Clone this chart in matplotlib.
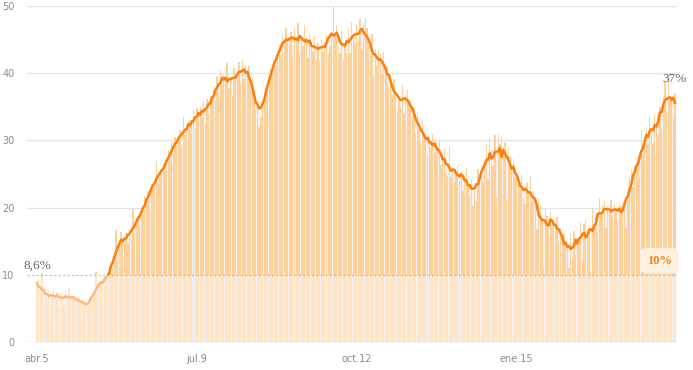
import matplotlib
matplotlib.use("Agg")
import matplotlib.pyplot as plt
import matplotlib.dates as mdates
from matplotlib.patches import Rectangle
import numpy as np
import pandas as pd

# daily positivity (%) from 5 april 2020, one row per week
positivity = [
    8.6, 9.4, 7.2, 10.2, 5.6, 7.6, 6.2,
    7.8, 5.4, 7.2, 8.0, 6.8, 7.5, 5.2,
    7.4, 6.8, 5.3, 7.6, 6.1, 8.1, 6.4,
    6.9, 6.2, 5.4, 7.0, 6.6, 5.8, 6.1,
    5.9, 5.3, 5.0, 5.8, 5.6, 6.4, 7.4,
    10.4, 7.2, 8.2, 9.0, 8.6, 9.8, 9.2,
    9.5, 10.6, 10.2, 11.0, 12.0, 16.6, 13.0,
    14.8, 16.4, 15.0, 14.6, 16.2, 14.8, 16.0,
    15.3, 19.8, 16.2, 17.6, 18.8, 17.4, 20.0,
    19.0, 21.8, 20.4, 22.5, 21.0, 23.5, 22.8,
    23.0, 27.0, 23.6, 24.8, 25.4, 26.6, 25.4,
    26.0, 28.5, 27.2, 29.8, 28.0, 30.5, 29.2,
    30.2, 31.5, 29.0, 33.5, 30.8, 32.2, 31.2,
    33.0, 32.0, 34.5, 31.8, 34.8, 33.2, 35.0,
    33.5, 35.8, 32.5, 36.2, 34.0, 35.6, 36.6,
    37.5, 35.8, 39.6, 37.0, 40.5, 38.2, 39.8,
    38.6, 41.5, 37.8, 38.9, 36.6, 40.8, 39.5,
    39.8, 41.6, 38.5, 42.0, 39.2, 41.0, 40.6,
    41.0, 38.0, 39.5, 36.2, 34.5, 35.8, 32.0,
    33.5, 36.0, 35.2, 37.0, 38.5, 39.5, 40.6,
    40.5, 42.0, 41.2, 43.0, 44.2, 42.8, 45.6,
    44.0, 46.8, 45.0, 44.5, 46.2, 42.5, 46.8,
    44.8, 47.5, 43.0, 45.6, 44.0, 47.2, 45.2,
    42.4, 45.8, 44.6, 43.2, 45.5, 42.0, 44.5,
    41.8, 45.0, 43.2, 44.6, 45.8, 42.8, 44.0,
    46.0, 50.0, 45.5, 47.2, 44.0, 43.0, 46.5,
    42.0, 44.5, 43.0, 46.8, 43.0, 47.6, 45.2,
    44.5, 47.2, 45.0, 48.0, 43.5, 47.5, 48.2,
    46.8, 44.0, 42.5, 45.8, 39.8, 43.5, 41.0,
    43.5, 42.8, 40.0, 43.2, 40.5, 41.0, 38.0,
    39.5, 36.8, 39.2, 37.4, 34.2, 36.5, 35.0,
    38.2, 34.0, 36.8, 37.5, 35.8, 36.2, 33.5,
    35.0, 31.0, 34.2, 32.5, 29.6, 33.0, 30.0,
    31.5, 27.8, 30.5, 29.0, 31.0, 28.2, 29.8,
    28.5, 30.0, 26.4, 27.0, 28.8, 25.0, 24.5,
    29.0, 24.5, 26.0, 23.8, 25.5, 26.4, 24.0,
    25.5, 22.5, 24.8, 26.0, 23.5, 22.0, 24.2,
    20.2, 23.0, 21.0, 25.8, 24.0, 26.2, 23.8,
    27.0, 29.5, 24.2, 30.4, 28.6, 26.2, 30.8,
    21.5, 31.0, 29.5, 30.5, 29.0, 29.8, 21.2,
    29.0, 27.5, 26.2, 27.2, 24.5, 25.0, 23.2,
    22.8, 24.8, 21.5, 20.5, 23.6, 22.0, 24.5,
    21.0, 22.5, 21.8, 16.8, 21.4, 20.2, 18.5,
    11.2, 20.0, 18.8, 17.2, 19.4, 17.0, 17.8,
    17.5, 18.6, 14.8, 17.0, 15.6, 16.0, 14.0,
    13.8, 11.0, 16.2, 12.5, 16.5, 13.0, 15.5,
    15.2, 17.8, 12.0, 17.5, 18.2, 16.0, 17.0,
    10.5, 19.8, 17.5, 18.6, 16.2, 21.5, 19.0,
    20.4, 21.0, 17.0, 20.2, 19.6, 21.2, 18.8,
    20.5, 19.0, 18.0, 20.6, 20.2, 19.4, 21.0,
    17.0, 21.2, 24.5, 25.8, 23.0, 26.0, 26.2,
    26.5, 24.5, 31.5, 27.8, 30.2, 32.0, 29.5,
    33.5, 31.2, 29.5, 34.0, 32.0, 30.8, 35.0,
    32.0, 36.5, 38.8, 34.2, 39.5, 36.0, 35.8,
    33.5, 37.0,
]

start = "2020-04-05"
tick_dates = ["2020-04-05", "2020-07-09", "2020-10-12", "2021-01-15"]
tick_labels = ["abr.5", "jul.9", "oct.12", "ene.15"]
y_ticks = [0, 10, 20, 30, 40, 50]
threshold = 10

dates = pd.date_range(start, periods=len(positivity))
values = pd.Series(positivity, index=dates)
avg = values.rolling(7, center=True, min_periods=1).mean()

fig = plt.figure(figsize=(6.93, 3.70), dpi=100)
ax = fig.add_axes([27 / 693, 28 / 370, 650 / 693, 336 / 370])

x = mdates.date2num(dates)
v = values.values

# gray area under the average
ax.fill_between(x, 0, avg.values, color="#f3f3f3", lw=0, zorder=1)

# bars split at the 10% threshold
ax.bar(x, np.minimum(v, threshold), width=0.8, color="#fee5c6", lw=0, zorder=2)
ax.bar(x, np.clip(v - threshold, 0, None), bottom=threshold, width=0.8,
       color="#fed19b", lw=0, zorder=2)

# average line: pale below the threshold, strong above
ax.plot(x, avg.values, color="#ffb676", lw=1.7, zorder=3, solid_joinstyle="round")
strong, = ax.plot(x, avg.values, color="#ff7f0a", lw=1.7, zorder=4, solid_joinstyle="round")
clip = Rectangle((x[0] - 10, threshold), len(x) + 20, 60, transform=ax.transData)
strong.set_clip_path(clip)

# grid and threshold
for yv in y_ticks[2:]:
    ax.axhline(yv, color="#e3e3e3", lw=0.9, zorder=0)
ax.axhline(threshold, color="#bbbbbb", lw=0.8, ls=(0, (2, 2)), zorder=5)
ax.axhline(0, color="#c8c8c8", lw=1.0, zorder=5)

ax.set_xlim(x[0] - 5.9, x[0] + 380.2)
ax.set_ylim(0, 50)

ax.set_yticks(y_ticks)
ax.set_yticklabels([str(t) for t in y_ticks])
ax.set_xticks(mdates.date2num(pd.to_datetime(tick_dates)))
ax.set_xticklabels(tick_labels)
ax.tick_params(axis="both", length=0, labelsize=7, labelcolor="#8c8c8c")
ax.tick_params(axis="y", pad=9)
ax.tick_params(axis="x", pad=9)
for s in ax.spines.values():
    s.set_visible(False)

# annotations
ax.text(x[0], 10.4, "8,6%", ha="center", va="bottom", fontsize=9.5,
        family="Liberation Serif", color="#666666", zorder=6)
ax.text(x[-1], 38.3, "37%", ha="center", va="bottom", fontsize=9.5,
        family="Liberation Serif", color="#666666", zorder=6, clip_on=False)
ax.text(x[-1] - 9.3, 12.1, "10%", ha="center", va="center", fontsize=9,
        family="Liberation Serif", fontweight="bold", color="#ff7f0a", zorder=6,
        bbox=dict(boxstyle="round,pad=0.55,rounding_size=0.6", fc="#fff1e0", ec="none"))

fig.savefig("out.png", dpi=100)
